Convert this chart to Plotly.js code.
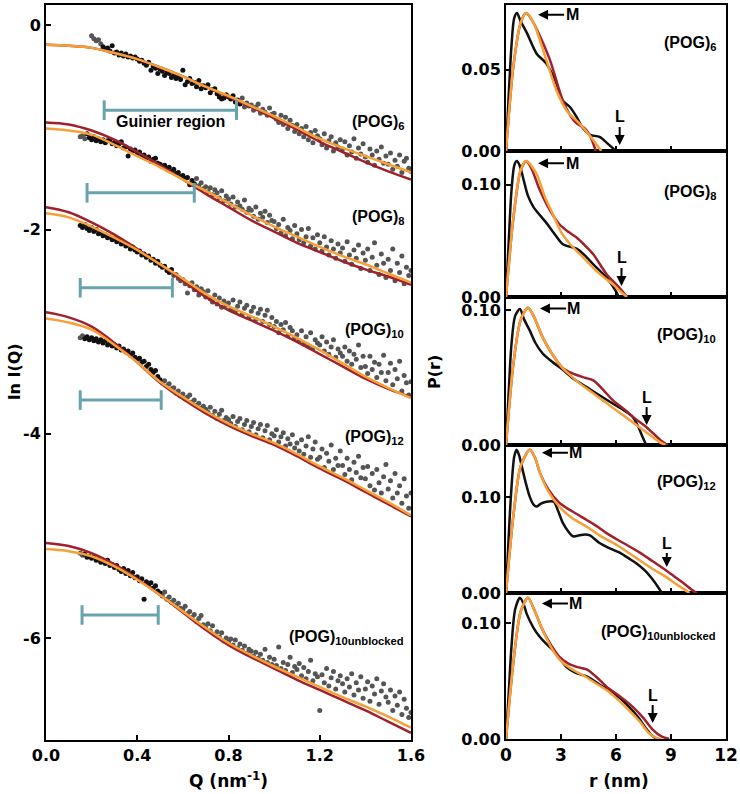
<!DOCTYPE html>
<html>
<head>
<meta charset="utf-8">
<script src="https://cdn.plot.ly/plotly-3.0.1.min.js"></script>
<style>html,body{margin:0;padding:0;background:#fff;}#chart{width:740px;height:794px;}</style>
</head>
<body>
<div id="chart"></div>
<script>
// ---------- Left panel: SAXS data ----------
const Q = [0.15,0.16,0.17,0.18,0.19,0.20,0.21,0.22,0.23,0.24,0.25,0.26,0.27,0.28,0.29,
0.30,0.31,0.32,0.33,0.34,0.35,0.36,0.37,0.38,0.39,0.40,0.41,0.42,0.43,0.44,0.45,0.46,0.47,0.48,0.49,
0.50,0.51,0.52,0.53,0.54,0.55,0.56,0.57,0.58,0.59,0.60,0.61,0.62,0.63,0.64,0.65,0.66,0.67,0.68,0.69,
0.70,0.71,0.72,0.73,0.74,0.75,0.76,0.77,0.78,0.79,0.80,0.81,0.82,0.83,0.84,0.85,0.86,0.87,0.88,0.89,
0.90,0.91,0.92,0.93,0.94,0.95,0.96,0.97,0.98,0.99,1.00,1.01,1.02,1.03,1.04,1.05,1.06,1.07,1.08,1.09,
1.10,1.11,1.12,1.13,1.14,1.15,1.16,1.17,1.18,1.19,1.20,1.21,1.22,1.23,1.24,1.25,1.26,1.27,1.28,1.29,
1.30,1.31,1.32,1.33,1.34,1.35,1.36,1.37,1.38,1.39,1.40,1.41,1.42,1.43,1.44,1.45,1.46,1.47,1.48,1.49,
1.50,1.51,1.52,1.53,1.54,1.55,1.56,1.57,1.58,1.59,1.60];

const lnI_POG6 = [-0.10,-0.13,-0.15,-0.14,-0.18,-0.21,-0.23,-0.22,-0.25,-0.20,
-0.27,-0.26,-0.29,-0.27,-0.30,-0.28,-0.31,-0.30,-0.32,-0.31,
-0.33,-0.35,-0.34,-0.37,-0.39,-0.36,-0.44,-0.40,-0.42,-0.47,
-0.43,-0.45,-0.49,-0.46,-0.47,-0.51,-0.49,-0.52,-0.50,-0.53,
-0.44,-0.58,-0.55,-0.52,-0.57,-0.56,-0.60,-0.54,-0.62,-0.59,
-0.61,-0.58,-0.66,-0.63,-0.62,-0.67,-0.70,-0.72,-0.71,-0.68,
-0.70,-0.72,-0.69,-0.75,-0.73,-0.77,-0.71,-0.80,-0.76,-0.79,
-0.78,-0.83,-0.80,-0.77,-0.86,-0.82,-0.85,-0.88,-0.81,-0.87,
-0.86,-0.92,-0.95,-0.88,-0.97,-0.90,-1.01,-0.93,-0.98,-1.04,
-0.97,-1.06,-1.01,-1.09,-0.99,-1.12,-1.05,-1.15,-1.03,-1.08,
-1.11,-1.17,-1.06,-1.20,-1.13,-1.09,-1.23,-1.15,-1.19,-1.12,
-1.21,-1.14,-1.27,-1.18,-1.24,-1.11,-1.30,-1.20,-1.26,-1.16,
-1.29,-1.34,-1.21,-1.27,-1.37,-1.23,-1.31,-1.19,-1.35,-1.28,
-1.36,-1.25,-1.41,-1.32,-1.38,-1.27,-1.44,-1.33,-1.30,-1.40,
-1.43];

const lnI_POG8 = [-1.09,-1.08,-1.11,-1.06,-1.10,
-1.12,-1.09,-1.13,-1.11,-1.14,-1.12,-1.15,-1.13,-1.12,-1.16,
-1.15,-1.18,-1.16,-1.14,-1.20,-1.19,-1.28,-1.21,-1.23,-1.22,
-1.26,-1.24,-1.28,-1.27,-1.30,-1.29,-1.33,-1.31,-1.30,-1.35,
-1.36,-1.38,-1.37,-1.40,-1.39,-1.43,-1.41,-1.45,-1.44,-1.48,
-1.47,-1.50,-1.49,-1.56,-1.52,-1.55,-1.50,-1.57,-1.54,-1.60,
-1.58,-1.63,-1.59,-1.66,-1.61,-1.64,-1.69,-1.62,-1.72,-1.67,
-1.70,-1.75,-1.68,-1.78,-1.73,-1.77,-1.80,-1.71,-1.83,-1.79,
-1.81,-1.87,-1.78,-1.90,-1.84,-1.88,-1.82,-1.93,-1.86,-1.91,
-1.92,-1.99,-1.95,-2.03,-1.90,-2.06,-1.98,-2.01,-2.09,-1.96,
-2.04,-2.10,-2.00,-2.13,-2.07,-1.99,-2.16,-2.08,-2.19,-2.05,
-2.13,-2.21,-2.07,-2.17,-2.25,-2.11,-2.19,-2.28,-2.14,-2.23,
-2.18,-2.31,-2.12,-2.25,-2.34,-2.20,-2.28,-2.15,-2.38,-2.23,
-2.30,-2.19,-2.40,-2.27,-2.13,-2.35,-2.44,-2.24,-2.33,-2.47,
-2.29,-2.40,-2.19,-2.50,-2.33,-2.42,-2.26,-2.53,-2.37,-2.45,
-2.40];

const lnI_POG10 = [-1.96,-1.98,-1.95,-1.99,-2.01,
-1.98,-2.02,-2.00,-2.04,-2.03,-2.06,-2.05,-2.08,-2.07,-2.10,
-2.09,-2.12,-2.10,-2.14,-2.13,-2.16,-2.15,-2.19,-2.17,-2.20,
-2.22,-2.21,-2.25,-2.24,-2.27,-2.26,-2.30,-2.29,-2.33,-2.31,
-2.35,-2.37,-2.36,-2.40,-2.42,-2.39,-2.45,-2.44,-2.48,-2.50,
-2.49,-2.53,-2.62,-2.55,-2.52,-2.59,-2.56,-2.64,-2.58,-2.61,
-2.66,-2.60,-2.68,-2.71,-2.64,-2.73,-2.67,-2.76,-2.70,-2.74,
-2.72,-2.78,-2.69,-2.80,-2.75,-2.71,-2.83,-2.77,-2.74,-2.86,
-2.80,-2.76,-2.88,-2.82,-2.78,-2.90,-2.84,-2.79,-2.93,-2.86,
-2.95,-2.90,-3.01,-2.93,-2.98,-2.91,-3.04,-2.96,-2.99,-3.06,
-3.03,-3.09,-2.99,-3.12,-3.05,-3.14,-3.01,-3.16,-3.08,-3.11,
-3.13,-3.05,-3.19,-3.10,-3.22,-3.15,-3.08,-3.25,-3.17,-3.21,
-3.24,-3.15,-3.29,-3.19,-3.32,-3.22,-3.27,-3.13,-3.35,-3.24,
-3.34,-3.41,-3.24,-3.37,-3.30,-3.45,-3.32,-3.40,-3.23,-3.48,
-3.40,-3.31,-3.52,-3.37,-3.46,-3.29,-3.58,-3.43,-3.50,-3.62,
-3.49];

const lnI_POG12 = [-3.06,-3.04,-3.07,-3.05,-3.08,
-3.06,-3.09,-3.07,-3.10,-3.08,-3.11,-3.09,-3.13,-3.11,-3.14,
-3.13,-3.16,-3.14,-3.18,-3.17,-3.20,-3.19,-3.23,-3.21,-3.25,
-3.27,-3.26,-3.30,-3.29,-3.34,-3.32,-3.37,-3.40,-3.38,-3.44,
-3.47,-3.50,-3.48,-3.53,-3.51,-3.56,-3.55,-3.60,-3.58,-3.63,
-3.61,-3.66,-3.64,-3.62,-3.69,-3.67,-3.72,-3.70,-3.75,-3.73,
-3.76,-3.79,-3.74,-3.82,-3.78,-3.85,-3.81,-3.77,-3.87,-3.84,
-3.86,-3.90,-3.83,-3.93,-3.88,-3.85,-3.96,-3.91,-3.87,-3.98,
-3.93,-3.89,-4.01,-3.95,-3.91,-4.04,-3.97,-3.92,-4.06,-4.00,
-4.02,-3.96,-4.08,-4.03,-3.99,-4.12,-4.05,-4.10,-4.01,-4.14,
-4.09,-4.17,-4.06,-4.20,-4.12,-4.03,-4.23,-4.15,-4.08,-4.25,
-4.23,-4.15,-4.33,-4.19,-4.27,-4.11,-4.35,-4.24,-4.31,-4.17,
-4.31,-4.40,-4.24,-4.35,-4.45,-4.28,-4.38,-4.22,-4.43,-4.33,
-4.44,-4.32,-4.51,-4.39,-4.55,-4.35,-4.48,-4.58,-4.42,-4.30,
-4.54,-4.46,-4.63,-4.39,-4.58,-4.51,-4.68,-4.44,-4.61,-4.73,
-4.58];

const lnI_POG10unblocked = [-5.17,-5.19,-5.18,-5.21,-5.20,
-5.22,-5.20,-5.24,-5.23,-5.26,-5.25,-5.27,-5.24,-5.29,-5.28,
-5.31,-5.29,-5.33,-5.35,-5.32,-5.37,-5.34,-5.39,-5.36,-5.41,
-5.40,-5.44,-5.42,-5.62,-5.45,-5.48,-5.46,-5.51,-5.49,-5.54,
-5.56,-5.59,-5.55,-5.62,-5.60,-5.65,-5.63,-5.68,-5.66,-5.71,
-5.72,-5.69,-5.76,-5.74,-5.80,-5.77,-5.84,-5.81,-5.78,-5.87,
-5.90,-5.86,-5.93,-5.88,-5.97,-5.94,-5.99,-5.95,-6.03,-6.00,
-6.04,-6.01,-6.07,-6.02,-6.10,-6.06,-6.12,-6.08,-6.15,-6.11,
-6.13,-6.18,-6.14,-6.20,-6.16,-6.22,-6.11,-6.24,-6.19,-6.26,
-6.21,-6.27,-6.09,-6.30,-6.24,-6.32,-6.26,-6.19,-6.34,-6.28,
-6.31,-6.25,-6.37,-6.29,-6.40,-6.33,-6.22,-6.42,-6.35,-6.38,
-6.71,-6.36,-6.44,-6.30,-6.47,-6.39,-6.33,-6.50,-6.42,-6.37,
-6.45,-6.53,-6.40,-6.48,-6.35,-6.56,-6.44,-6.51,-6.38,-6.59,
-6.50,-6.43,-6.62,-6.47,-6.55,-6.40,-6.65,-6.52,-6.45,-6.58,
-6.63,-6.51,-6.71,-6.57,-6.66,-6.53,-6.75,-6.60,-6.69,-6.78,
-6.73];

// Model fits (dark red = model 1, orange = model 2)
const Qfit = [0,0.1,0.2,0.3,0.4,0.5,0.6,0.7,0.8,0.9,1.0,1.1,1.2,1.3,1.4,1.5,1.6];
const fitRed_POG6 = [-0.19,-0.20,-0.22,-0.27,-0.33,-0.41,-0.50,-0.60,-0.70,-0.80,-0.91,-1.02,-1.14,-1.24,-1.34,-1.43,-1.51];
const fitOrg_POG6 = [-0.19,-0.20,-0.22,-0.27,-0.33,-0.41,-0.50,-0.60,-0.69,-0.79,-0.89,-1.00,-1.11,-1.20,-1.28,-1.36,-1.44];
const fitRed_POG8 = [-0.95,-0.97,-1.03,-1.12,-1.24,-1.37,-1.51,-1.65,-1.78,-1.91,-2.02,-2.13,-2.22,-2.31,-2.39,-2.46,-2.54];
const fitOrg_POG8 = [-1.01,-1.03,-1.07,-1.17,-1.28,-1.39,-1.51,-1.62,-1.74,-1.86,-1.97,-2.07,-2.17,-2.26,-2.34,-2.43,-2.52];
const fitRed_POG10 = [-1.78,-1.83,-1.93,-2.05,-2.19,-2.34,-2.50,-2.66,-2.79,-2.89,-2.99,-3.10,-3.22,-3.34,-3.46,-3.56,-3.64];
const fitOrg_POG10 = [-1.84,-1.88,-1.97,-2.08,-2.20,-2.34,-2.48,-2.63,-2.75,-2.85,-2.95,-3.06,-3.18,-3.31,-3.44,-3.55,-3.65];
const fitRed_POG12 = [-2.81,-2.86,-2.95,-3.11,-3.30,-3.50,-3.66,-3.80,-3.92,-4.02,-4.11,-4.22,-4.34,-4.45,-4.57,-4.69,-4.81];
const fitOrg_POG12 = [-2.87,-2.91,-2.98,-3.13,-3.30,-3.49,-3.64,-3.78,-3.90,-4.00,-4.09,-4.20,-4.32,-4.43,-4.55,-4.67,-4.80];
const fitRed_POG10u = [-5.07,-5.10,-5.17,-5.28,-5.42,-5.58,-5.75,-5.92,-6.07,-6.19,-6.30,-6.41,-6.51,-6.61,-6.71,-6.82,-6.93];
const fitOrg_POG10u = [-5.13,-5.15,-5.20,-5.30,-5.43,-5.58,-5.74,-5.90,-6.05,-6.17,-6.28,-6.38,-6.48,-6.58,-6.67,-6.77,-6.88];

// Guinier regions
const guinierStart = [0.255,0.18,0.15,0.15,0.158];
const guinierEnd   = [0.835,0.65,0.554,0.505,0.492];
const guinierY     = [-0.83,-1.64,-2.57,-3.67,-5.775];

const sampleLabels = ['(POG)<sub>6</sub>','(POG)<sub>8</sub>','(POG)<sub>10</sub>','(POG)<sub>12</sub>','(POG)<sub>10unblocked</sub>'];

// ---------- Right panels: P(r) ----------
const r6_blk = [0,0.15,0.3,0.45,0.6,0.8,1.13,1.67,2.2,2.7,3.1,3.5,3.85,4.2,4.58,5.1,5.5,6.0];
const p6_blk = [0,0.035,0.065,0.082,0.085,0.080,0.073,0.060,0.054,0.043,0.031,0.027,0.021,0.014,0.010,0.0087,0.005,0];
const r6_red = [0,0.4,0.8,1.1,1.4,1.76,2.4,3.1,3.5,3.85,4.3,4.6,4.9];
const p6_red = [0,0.052,0.079,0.085,0.081,0.073,0.056,0.031,0.022,0.017,0.014,0.009,0];
const r6_org = [0,0.4,0.8,1.1,1.5,2.2,2.8,3.3,4.0,4.6,5.2];
const p6_org = [0,0.052,0.079,0.085,0.079,0.056,0.036,0.025,0.017,0.009,0];

const r8_blk = [0,0.15,0.3,0.45,0.58,0.75,0.95,1.2,1.5,2.2,2.7,3.1,3.85,4.3,4.76,5.5,6.0,6.15];
const p8_blk = [0,0.05,0.095,0.117,0.121,0.117,0.105,0.090,0.080,0.066,0.055,0.047,0.043,0.037,0.029,0.017,0.005,0];
const r8_red = [0,0.4,0.8,1.1,1.4,1.8,2.3,2.9,3.4,3.85,4.3,4.76,5.5,6.2,6.6];
const p8_red = [0,0.07,0.113,0.121,0.114,0.097,0.080,0.065,0.058,0.053,0.046,0.038,0.020,0.008,0];
const r8_org = [0,0.4,0.8,1.1,1.65,2.1,2.55,3.0,3.5,4.1,4.76,5.3,5.85,6.3,6.6];
const p8_org = [0,0.07,0.113,0.121,0.110,0.090,0.074,0.058,0.047,0.037,0.026,0.018,0.011,0.004,0];

const r10_blk = [0,0.15,0.3,0.5,0.76,1.0,1.3,1.6,2.0,2.5,3.1,3.7,4.4,5.1,5.8,6.4,6.9,7.2,7.45,7.65];
const p10_blk = [0,0.04,0.075,0.096,0.101,0.093,0.085,0.076,0.068,0.062,0.056,0.049,0.043,0.037,0.031,0.026,0.021,0.014,0.006,0];
const r10_red = [0,0.4,0.8,1.2,1.5,2.0,2.5,3.1,3.5,3.85,4.3,4.76,5.3,5.85,6.5,7.1,7.6,8.0,8.4,8.8];
const p10_red = [0,0.06,0.093,0.102,0.096,0.080,0.068,0.057,0.054,0.052,0.050,0.048,0.041,0.033,0.026,0.019,0.014,0.009,0.004,0];
const r10_org = [0,0.4,0.8,1.2,1.5,2.0,2.5,3.1,3.5,4.0,4.7,5.5,6.2,6.9,7.5,8.0,8.4,8.7];
const p10_org = [0,0.06,0.093,0.102,0.096,0.080,0.068,0.057,0.052,0.046,0.039,0.031,0.024,0.017,0.011,0.006,0.002,0];

const r12_blk = [0,0.15,0.3,0.45,0.58,0.72,0.87,1.1,1.3,1.5,1.67,1.9,2.2,2.6,2.85,3.1,3.4,3.65,4.0,4.3,4.58,5.1,5.6,6.2,6.7,7.1,7.6,8.0,8.3,8.5];
const p12_blk = [0,0.06,0.11,0.142,0.149,0.143,0.131,0.113,0.100,0.092,0.090,0.093,0.095,0.095,0.085,0.073,0.064,0.059,0.060,0.061,0.060,0.052,0.047,0.042,0.036,0.031,0.023,0.014,0.006,0];
const r12_red = [0,0.4,0.8,1.3,1.6,1.85,2.3,2.9,3.6,4.4,5.0,5.5,6.4,7.3,8.0,8.7,9.2,9.7,10.1,10.4];
const p12_red = [0,0.08,0.132,0.149,0.140,0.125,0.108,0.094,0.085,0.076,0.069,0.062,0.052,0.042,0.033,0.024,0.017,0.010,0.004,0];
const r12_org = [0,0.4,0.8,1.3,1.6,1.85,2.3,2.9,3.6,4.4,5.1,5.85,6.6,7.3,8.0,8.7,9.3,9.7,10.0];
const p12_org = [0,0.08,0.132,0.149,0.140,0.125,0.106,0.090,0.078,0.069,0.060,0.052,0.043,0.034,0.025,0.017,0.009,0.004,0];

const r10u_blk = [0,0.15,0.3,0.5,0.76,0.95,1.13,1.5,1.85,2.2,2.55,2.9,3.3,3.8,4.4,5.1,5.85,6.3,6.7,7.2,7.6,7.9,8.2];
const p10u_blk = [0,0.04,0.08,0.112,0.122,0.117,0.108,0.096,0.088,0.082,0.077,0.070,0.062,0.057,0.054,0.047,0.040,0.034,0.028,0.019,0.010,0.004,0];
const r10u_red = [0,0.4,0.8,1.2,1.5,2.0,2.5,2.9,3.4,3.9,4.4,4.9,5.5,6.2,6.9,7.5,8.0,8.5,8.9];
const p10u_red = [0,0.066,0.110,0.122,0.113,0.094,0.080,0.071,0.065,0.062,0.060,0.054,0.045,0.037,0.028,0.018,0.008,0.002,0];
const r10u_org = [0,0.4,0.8,1.2,1.5,2.0,2.5,2.9,3.5,4.2,4.8,5.5,6.1,6.7,7.3,7.8,8.2,8.5];
const p10u_org = [0,0.066,0.110,0.122,0.113,0.094,0.078,0.069,0.061,0.055,0.049,0.042,0.034,0.025,0.015,0.005,0.001,0];

// M (maximum) and L (length) marker positions per panel, top to bottom
const M_r = [1.75,1.75,1.85,1.96,1.96];
const M_p = [0.084,0.119,0.1015,0.146,0.117];
const L_r = [6.2,6.3,7.67,8.77,8.0];
const L_p = [0.0037,0.0098,0.0148,0.027,0.0138];
const yTop = [0.09,0.13,0.11,0.154,0.126];
const yTickMax = [0.05,0.10,0.10,0.10,0.10];

// ---------- Styles ----------
const C_BLK = '#111111', C_GRAY = '#555555', C_RED = '#a0202c', C_ORG = '#f6a037', C_TEAL = '#69a4ae';
const TICKFONT = {family:'DejaVu Sans', size:16, color:'#000', weight:'bold'};
const LBLFONT = {family:'Liberation Sans, Arial', size:16, color:'#000', weight:'bold'};

const traces = [];
const datasets = [lnI_POG6, lnI_POG8, lnI_POG10, lnI_POG12, lnI_POG10unblocked];
const fitsRed = [fitRed_POG6, fitRed_POG8, fitRed_POG10, fitRed_POG12, fitRed_POG10u];
const fitsOrg = [fitOrg_POG6, fitOrg_POG8, fitOrg_POG10, fitOrg_POG12, fitOrg_POG10u];
const blackLo = [0.25,0.18,0.15,0.17,0.17];
const blackHi = [0.85,0.65,0.55,0.50,0.50];

datasets.forEach((ys, i) => {
  const qs = Q.slice(Q.length - ys.length);
  const gx=[], gy=[], bx=[], by=[];
  qs.forEach((q, k) => {
    if (q >= blackLo[i] - 1e-9 && q <= blackHi[i] + 1e-9) { bx.push(q); by.push(ys[k]); }
    else { gx.push(q); gy.push(ys[k]); }
  });
  traces.push({x:gx, y:gy, xaxis:'x', yaxis:'y', mode:'markers', type:'scatter', marker:{color:C_GRAY, size:5}, hoverinfo:'skip'});
  traces.push({x:bx, y:by, xaxis:'x', yaxis:'y', mode:'markers', type:'scatter', marker:{color:C_BLK, size:5}, hoverinfo:'skip'});
});
datasets.forEach((ys, i) => {
  traces.push({x:Qfit, y:fitsRed[i], xaxis:'x', yaxis:'y', mode:'lines', line:{color:C_RED, width:2.5, shape:'spline'}, hoverinfo:'skip'});
  traces.push({x:Qfit, y:fitsOrg[i], xaxis:'x', yaxis:'y', mode:'lines', line:{color:C_ORG, width:2.5, shape:'spline'}, hoverinfo:'skip'});
});
guinierStart.forEach((s, i) => {
  traces.push({x:[s, guinierEnd[i]], y:[guinierY[i], guinierY[i]], xaxis:'x', yaxis:'y', mode:'lines+markers',
    line:{color:C_TEAL, width:3}, marker:{symbol:'line-ns', size:14, line:{color:C_TEAL, width:3}}, hoverinfo:'skip'});
});

// P(r) panels: top->bottom use axes x6/y6 ... x2/y2
const prSets = [
  [r6_blk,p6_blk,r6_red,p6_red,r6_org,p6_org],
  [r8_blk,p8_blk,r8_red,p8_red,r8_org,p8_org],
  [r10_blk,p10_blk,r10_red,p10_red,r10_org,p10_org],
  [r12_blk,p12_blk,r12_red,p12_red,r12_org,p12_org],
  [r10u_blk,p10u_blk,r10u_red,p10u_red,r10u_org,p10u_org]
];
const axIdx = [6,5,4,3,2];
prSets.forEach((s, i) => {
  const xa = 'x'+axIdx[i], ya = 'y'+axIdx[i];
  [[s[0],s[1],C_BLK],[s[2],s[3],C_RED],[s[4],s[5],C_ORG]].forEach(t => {
    traces.push({x:t[0], y:t[1], xaxis:xa, yaxis:ya, mode:'lines', line:{color:t[2], width:2.5, shape:'spline', smoothing:0.8}, hoverinfo:'skip'});
  });
});

// ---------- Layout ----------
const H = 794, W = 740;
const py = px => 1 - px / H;
const pxX = px => px / W;
const panelEdges = [5,151,297,445,593,739];

const layout = {
  width: W, height: H, margin:{l:0,r:0,t:0,b:0}, showlegend:false,
  paper_bgcolor:'#fff', plot_bgcolor:'#fff',
  xaxis: {domain:[pxX(46), pxX(411)], range:[0,1.6], anchor:'y', tickvals:[0,0.4,0.8,1.2,1.6], ticktext:['0.0','0.4','0.8','1.2','1.6'],
    ticks:'inside', ticklen:5, tickwidth:2, tickcolor:'#000', showline:true, mirror:true, linewidth:2, linecolor:'#000',
    showgrid:false, zeroline:false, tickfont:TICKFONT},
  yaxis: {domain:[py(740), py(5)], range:[-7,0.2], anchor:'x', tickvals:[0,-2,-4,-6], ticktext:['0','-2','-4','-6'],
    ticks:'inside', ticklen:5, tickwidth:2, tickcolor:'#000', showline:true, mirror:true, linewidth:2, linecolor:'#000',
    showgrid:false, zeroline:false, tickfont:TICKFONT},
  annotations: [], shapes: []
};
axIdx.forEach((n, i) => {
  layout['xaxis'+n] = {domain:[pxX(506), pxX(726)], range:[0,12], anchor:'y'+n, tickvals:[0,3,6,9,12],
    showticklabels: n === 2, ticks:'inside', ticklen:5, tickwidth:2, tickcolor:'#000', showline:true, mirror:true,
    linewidth:2, linecolor:'#000', showgrid:false, zeroline:false, tickfont:Object.assign({}, TICKFONT, {size:17})};
  layout['yaxis'+n] = {domain:[py(panelEdges[i+1]), py(panelEdges[i])], range:[0, yTop[i]], anchor:'x'+n,
    tickvals:[0, yTickMax[i]], ticktext:['0.00', yTickMax[i].toFixed(2)],
    ticks:'inside', ticklen:5, tickwidth:2, tickcolor:'#000', showline:true, mirror:true,
    linewidth:2, linecolor:'#000', showgrid:false, zeroline:false, tickfont:Object.assign({}, TICKFONT, {size:16})};
});

const ann = layout.annotations;
// Left labels
const leftLabelY = [122,217,330,437,637];
sampleLabels.forEach((t, i) => {
  ann.push({text:t, xref:'paper', yref:'paper', x:pxX(406), y:py(leftLabelY[i]), xanchor:'right', yanchor:'middle', showarrow:false, font:LBLFONT});
});
ann.push({text:'Guinier region', xref:'paper', yref:'paper', x:pxX(170), y:py(121), xanchor:'center', yanchor:'middle', showarrow:false, font:LBLFONT});
// Right labels
const rightLabelY = [44,192,335,482,632];
sampleLabels.forEach((t, i) => {
  ann.push({text:t, xref:'paper', yref:'paper', x:pxX(718), y:py(rightLabelY[i]), xanchor:'right', yanchor:'middle', showarrow:false, font:LBLFONT});
});
// M and L arrows
axIdx.forEach((n, i) => {
  ann.push({text:'M', xref:'x'+n, yref:'y'+n, x:M_r[i], y:M_p[i], ax:34, ay:0, showarrow:true, arrowhead:2, arrowsize:1, arrowwidth:2, arrowcolor:'#000', standoff:0, font:LBLFONT});
  ann.push({text:'L', xref:'x'+n, yref:'y'+n, x:L_r[i], y:L_p[i], ax:0, ay:(i===3?-24:-28), showarrow:true, arrowhead:2, arrowsize:1, arrowwidth:2, arrowcolor:'#000', standoff:0, font:LBLFONT});
});
// Axis titles
const TITLEFONT = {family:'DejaVu Sans', size:17, color:'#000', weight:'bold'};
ann.push({text:'ln I(Q)', xref:'paper', yref:'paper', x:pxX(14), y:py(372), textangle:-90, showarrow:false, xanchor:'center', yanchor:'middle', font:Object.assign({}, TITLEFONT, {size:16})});
ann.push({text:'Q (nm<sup>-1</sup>)', xref:'paper', yref:'paper', x:pxX(228), y:py(780), showarrow:false, xanchor:'center', yanchor:'middle', font:TITLEFONT});
ann.push({text:'P(r)', xref:'paper', yref:'paper', x:pxX(434), y:py(372), textangle:-90, showarrow:false, xanchor:'center', yanchor:'middle', font:Object.assign({}, TITLEFONT, {size:16})});
ann.push({text:'r (nm)', xref:'paper', yref:'paper', x:pxX(619), y:py(781), showarrow:false, xanchor:'center', yanchor:'middle', font:TITLEFONT});

Plotly.newPlot('chart', traces, layout, {staticPlot:true, displayModeBar:false});
</script>
</body>
</html>
